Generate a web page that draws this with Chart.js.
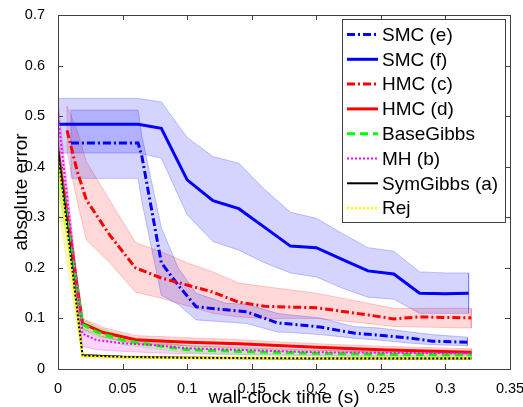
<!DOCTYPE html>
<html>
<head>
<meta charset="utf-8">
<script src="https://cdn.jsdelivr.net/npm/chart.js@4"></script>
<style>
html, body { margin: 0; padding: 0; background: #fff; }
</style>
</head>
<body>
<canvas id="c" width="523" height="407"></canvas>
<script>
// tick marks and labels
const xTicks = [0, 0.05, 0.1, 0.15, 0.2, 0.25, 0.3, 0.35];
const xTickLabels = ['0', '0.05', '0.1', '0.15', '0.2', '0.25', '0.3', '0.35'];
const yTicks = [0, 0.1, 0.2, 0.3, 0.4, 0.5, 0.6, 0.7];
const yTickLabels = ['0', '0.1', '0.2', '0.3', '0.4', '0.5', '0.6', '0.7'];

// SMC (e)
const smcE_t  = [0.01, 0.062, 0.065, 0.08, 0.093, 0.107, 0.13, 0.146, 0.17, 0.18, 0.203, 0.229, 0.249, 0.273, 0.29, 0.317];
const smcE    = [0.447, 0.447, 0.42, 0.21, 0.166, 0.123, 0.117, 0.113, 0.091, 0.089, 0.083, 0.071, 0.067, 0.061, 0.055, 0.053];
const smcE_hi = [0.512, 0.512, 0.46, 0.28, 0.2, 0.15, 0.13, 0.128, 0.11, 0.107, 0.101, 0.084, 0.081, 0.073, 0.068, 0.063];
const smcE_lo = [0.377, 0.377, 0.33, 0.146, 0.128, 0.097, 0.093, 0.09, 0.073, 0.072, 0.068, 0.061, 0.057, 0.051, 0.048, 0.046];

// SMC (f)
const smcF_t  = [0, 0.062, 0.08, 0.1, 0.12, 0.14, 0.16, 0.18, 0.2, 0.22, 0.24, 0.26, 0.28, 0.3, 0.318];
const smcF    = [0.484, 0.484, 0.476, 0.374, 0.333, 0.317, 0.28, 0.243, 0.24, 0.217, 0.194, 0.188, 0.15, 0.149, 0.15];
const smcF_hi = [0.535, 0.535, 0.528, 0.458, 0.42, 0.407, 0.355, 0.31, 0.298, 0.268, 0.24, 0.233, 0.192, 0.19, 0.19];
const smcF_lo = [0.427, 0.427, 0.417, 0.305, 0.252, 0.235, 0.21, 0.19, 0.182, 0.16, 0.142, 0.138, 0.11, 0.11, 0.11];

// HMC (c)
const hmcC_t  = [0.007, 0.015, 0.022, 0.04, 0.06, 0.08, 0.1, 0.12, 0.14, 0.16, 0.2, 0.24, 0.26, 0.28, 0.32];
const hmcC    = [0.472, 0.39, 0.334, 0.265, 0.2, 0.18, 0.166, 0.152, 0.132, 0.124, 0.121, 0.107, 0.099, 0.103, 0.101];
const hmcC_hi = [0.52, 0.47, 0.41, 0.334, 0.25, 0.232, 0.21, 0.192, 0.17, 0.163, 0.15, 0.13, 0.12, 0.12, 0.12];
const hmcC_lo = [0.43, 0.33, 0.255, 0.21, 0.152, 0.14, 0.125, 0.11, 0.103, 0.1, 0.1, 0.09, 0.084, 0.083, 0.081];

// HMC (d)
const hmcD_t  = [0, 0.019, 0.035, 0.06, 0.1, 0.14, 0.2, 0.25, 0.32];
const hmcD    = [0.43, 0.09, 0.072, 0.058, 0.053, 0.05, 0.043, 0.038, 0.033];
const hmcD_hi = [0.46, 0.1, 0.082, 0.066, 0.062, 0.058, 0.05, 0.045, 0.04];
const hmcD_lo = [0.4, 0.08, 0.063, 0.05, 0.046, 0.043, 0.037, 0.033, 0.028];

// BaseGibbs
const base_t  = [0, 0.019, 0.03, 0.05, 0.075, 0.1, 0.15, 0.2, 0.25, 0.32];
const base    = [0.42, 0.088, 0.073, 0.057, 0.047, 0.038, 0.034, 0.031, 0.029, 0.028];
const base_hi = [0.45, 0.1, 0.083, 0.066, 0.055, 0.046, 0.04, 0.036, 0.034, 0.032];
const base_lo = [0.36, 0.077, 0.063, 0.048, 0.04, 0.032, 0.028, 0.026, 0.024, 0.023];

// MH (b)
const mh_t  = [0, 0.019, 0.03, 0.05, 0.075, 0.1, 0.15, 0.2, 0.32];
const mh    = [0.5, 0.07, 0.057, 0.051, 0.047, 0.041, 0.037, 0.033, 0.031];
const mh_hi = [0.53, 0.08, 0.066, 0.057, 0.052, 0.046, 0.041, 0.037, 0.034];
const mh_lo = [0.45, 0.045, 0.038, 0.035, 0.032, 0.03, 0.028, 0.027, 0.026];

// SymGibbs (a)
const sym_t  = [0, 0.019, 0.05, 0.1, 0.2, 0.32];
const sym    = [0.435, 0.027, 0.024, 0.022, 0.021, 0.021];
const sym_hi = [0.44, 0.029, 0.026, 0.024, 0.023, 0.023];
const sym_lo = [0.42, 0.025, 0.022, 0.02, 0.019, 0.019];

// Rej
const rej_t  = [0, 0.019, 0.05, 0.1, 0.2, 0.32];
const rej    = [0.41, 0.025, 0.023, 0.022, 0.021, 0.021];
const rej_hi = [0.44, 0.028, 0.025, 0.024, 0.023, 0.023];
const rej_lo = [0.32, 0.022, 0.021, 0.02, 0.019, 0.019];

const FONT = '"Liberation Sans", Arial, sans-serif';
const dashDot = [8, 3, 2, 3];

function line(label, t, m, color, width, dash, order) {
    return {
        label,
        data: t.map((x, i) => ({x, y: m[i]})),
        borderColor: color,
        borderWidth: width,
        borderDash: dash,
        pointRadius: 0,
        fill: false,
        tension: 0,
        order,
        inLegend: true
    };
}

function band(t, hi, lo, fillColor, edgeColor) {
    const pts = t.map((x, i) => ({x, y: hi[i]}))
        .concat(t.map((x, i) => ({x, y: lo[i]})).reverse());
    pts.push(pts[0]);
    return {
        data: pts,
        backgroundColor: fillColor,
        borderColor: edgeColor,
        borderWidth: 1,
        pointRadius: 0,
        fill: 'shape',
        tension: 0,
        order: 100
    };
}

const datasets = [
    band(smcE_t, smcE_hi, smcE_lo, 'rgba(0,0,255,0.17)', 'rgba(0,0,255,0.22)'),
    band(smcF_t, smcF_hi, smcF_lo, 'rgba(0,0,255,0.17)', 'rgba(0,0,255,0.22)'),
    band(hmcC_t, hmcC_hi, hmcC_lo, 'rgba(255,0,0,0.15)', 'rgba(255,0,0,0.2)'),
    band(hmcD_t, hmcD_hi, hmcD_lo, 'rgba(255,0,0,0.15)', 'rgba(255,0,0,0.2)'),
    band(base_t, base_hi, base_lo, 'rgba(0,255,0,0.17)', 'rgba(0,255,0,0.25)'),
    band(mh_t, mh_hi, mh_lo, 'rgba(255,0,255,0.17)', 'rgba(255,0,255,0.25)'),
    band(sym_t, sym_hi, sym_lo, 'rgba(0,0,0,0.12)', 'rgba(0,0,0,0.15)'),
    band(rej_t, rej_hi, rej_lo, 'rgba(255,230,0,0.25)', 'rgba(255,230,0,0.3)'),
    line('SMC (e)', smcE_t, smcE, '#0000ff', 3, dashDot, 8),
    line('SMC (f)', smcF_t, smcF, '#0000ff', 3, [], 7),
    line('HMC (c)', hmcC_t, hmcC, '#ff0000', 3, dashDot, 6),
    line('HMC (d)', hmcD_t, hmcD, '#ff0000', 3, [], 5),
    line('BaseGibbs', base_t, base, '#00ff00', 3, [8, 5], 4),
    line('MH (b)', mh_t, mh, '#ff00ff', 2, [2, 2], 3),
    line('SymGibbs (a)', sym_t, sym, '#000000', 2, [], 2),
    line('Rej', rej_t, rej, '#ffff00', 2.5, [2, 2], 1)
];

// box round the axes with inward ticks, as in the original figure
const frame = {
    id: 'frame',
    afterDatasetsDraw(chart) {
        const {ctx, chartArea: a, scales: {x, y}} = chart;
        ctx.save();
        ctx.strokeStyle = '#404040';
        ctx.lineWidth = 1;
        ctx.setLineDash([]);
        ctx.strokeRect(a.left + 0.5, a.top + 0.5, a.right - a.left, a.bottom - a.top);
        ctx.beginPath();
        xTicks.forEach(v => {
            const px = Math.round(x.getPixelForValue(v)) + 0.5;
            ctx.moveTo(px, a.bottom); ctx.lineTo(px, a.bottom - 5);
            ctx.moveTo(px, a.top); ctx.lineTo(px, a.top + 5);
        });
        yTicks.forEach(v => {
            const py = Math.round(y.getPixelForValue(v)) + 0.5;
            ctx.moveTo(a.left, py); ctx.lineTo(a.left + 5, py);
            ctx.moveTo(a.right, py); ctx.lineTo(a.right - 5, py);
        });
        ctx.stroke();
        ctx.restore();
    },
    afterDraw(chart) {
        const ctx = chart.ctx;
        const items = chart.data.datasets.filter(d => d.inLegend);
        const bx = 342, by = 19, bw = 163, bh = 203;
        ctx.save();
        ctx.fillStyle = '#fff';
        ctx.fillRect(bx, by, bw, bh);
        ctx.strokeStyle = '#404040';
        ctx.lineWidth = 1;
        ctx.strokeRect(bx + 0.5, by + 0.5, bw, bh);
        ctx.font = '19px ' + FONT;
        ctx.textBaseline = 'middle';
        items.forEach((d, i) => {
            const yy = 34.5 + i * 24.8;
            ctx.strokeStyle = d.borderColor;
            ctx.lineWidth = d.borderWidth;
            ctx.setLineDash(d.borderDash);
            ctx.beginPath();
            ctx.moveTo(347, yy);
            ctx.lineTo(378, yy);
            ctx.stroke();
            ctx.setLineDash([]);
            ctx.fillStyle = '#000';
            ctx.fillText(d.label, 382, yy + 1);
        });
        ctx.restore();
    }
};

new Chart(document.getElementById('c').getContext('2d'), {
    type: 'line',
    data: {datasets},
    options: {
        responsive: false,
        animation: false,
        layout: {padding: {top: 15, right: 13, left: 0, bottom: 0}},
        plugins: {legend: {display: false}, tooltip: {enabled: false}},
        scales: {
            x: {
                type: 'linear',
                min: 0,
                max: 0.35,
                afterBuildTicks: s => { s.ticks = xTicks.map(v => ({value: v})); },
                afterFit: s => { s.height = 38; s.paddingLeft = 0; s.paddingRight = 0; },
                grid: {display: false},
                border: {display: false},
                ticks: {
                    padding: 3,
                    maxRotation: 0,
                    autoSkip: false,
                    color: '#000',
                    font: {family: FONT, size: 14.5},
                    callback: (v, i) => xTickLabels[i]
                },
                title: {
                    display: true,
                    text: 'wall-clock time (s)',
                    color: '#000',
                    font: {family: FONT, size: 19, lineHeight: 1},
                    padding: {top: 0, bottom: 0}
                }
            },
            y: {
                type: 'linear',
                min: 0,
                max: 0.7,
                afterBuildTicks: s => { s.ticks = yTicks.map(v => ({value: v})); },
                afterFit: s => { s.width = 58; s.paddingTop = 0; s.paddingBottom = 0; },
                grid: {display: false},
                border: {display: false},
                ticks: {
                    padding: 5,
                    autoSkip: false,
                    color: '#000',
                    font: {family: FONT, size: 14.5},
                    callback: (v, i) => yTickLabels[i]
                },
                title: {
                    display: true,
                    text: 'absolute error',
                    color: '#000',
                    font: {family: FONT, size: 19},
                    padding: {top: 10, bottom: 0}
                }
            }
        }
    },
    plugins: [frame]
});
</script>
</body>
</html>
